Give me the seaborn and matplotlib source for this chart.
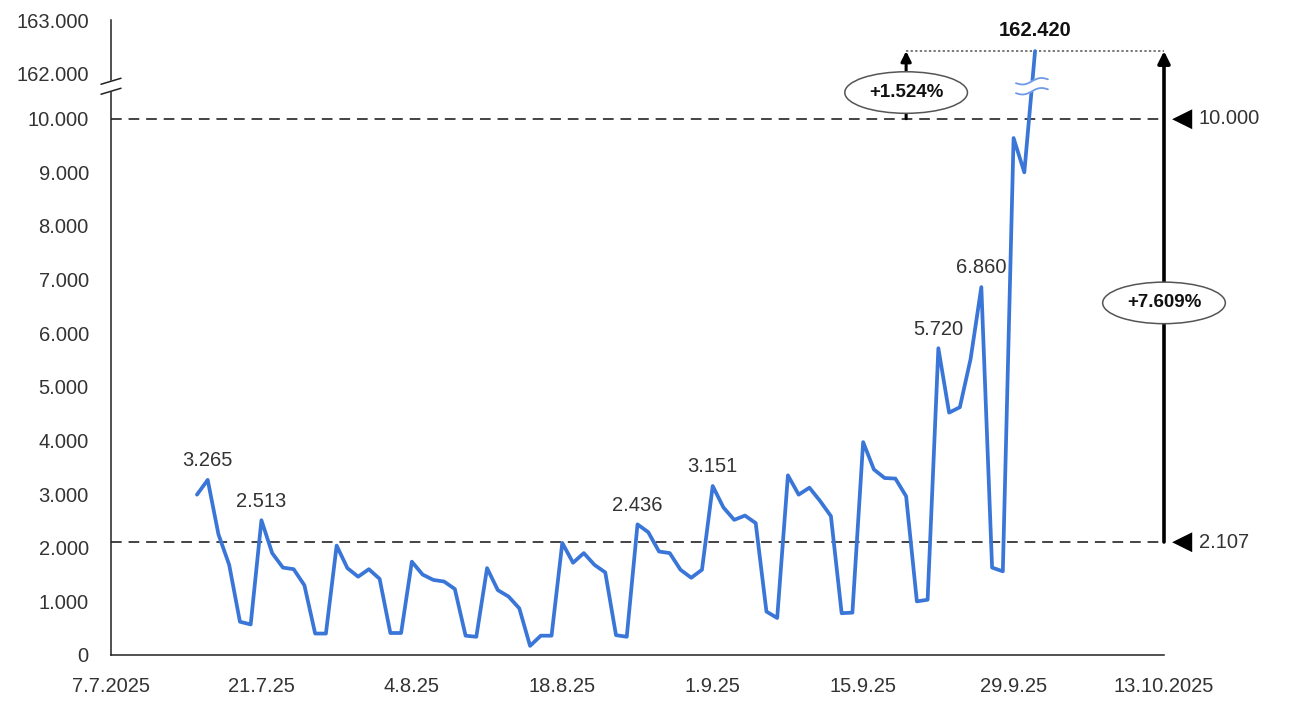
import numpy as np
import pandas as pd
import matplotlib
matplotlib.use('Agg')
import matplotlib.pyplot as plt
import matplotlib.dates as mdates
import seaborn as sns

# daily values from Tue 15.7.2025 to Wed 1.10.2025
start_date = '2025-07-15'
values = [
    2990, 3265, 2250, 1680, 620, 570,                  # 15.7 - 20.7
    2513, 1900, 1630, 1600, 1300, 400, 400,            # 21.7 - 27.7
    2040, 1620, 1460, 1600, 1420, 410, 410,            # 28.7 - 3.8
    1740, 1500, 1400, 1370, 1230, 360, 340,            # 4.8 - 10.8
    1620, 1210, 1090, 870, 170, 360, 360,              # 11.8 - 17.8
    2090, 1720, 1900, 1680, 1540, 370, 340,            # 18.8 - 24.8
    2436, 2290, 1930, 1900, 1590, 1440, 1590,          # 25.8 - 31.8
    3151, 2750, 2520, 2600, 2460, 810, 690,            # 1.9 - 7.9
    3350, 2990, 3120, 2870, 2590, 780, 790,            # 8.9 - 14.9
    3970, 3460, 3300, 3290, 2960, 1000, 1030,          # 15.9 - 21.9
    5720, 4520, 4620, 5520, 6860, 1630, 1560,          # 22.9 - 28.9
    9640, 9000, 162420,                                # 29.9 - 1.10
]
labelled_dates = ['2025-07-16', '2025-07-21', '2025-08-25', '2025-09-01',
                  '2025-09-22', '2025-09-26']

tick_dates = pd.date_range('2025-07-07', '2025-10-13', freq='14D')
tick_labels = ['7.7.2025', '21.7.25', '4.8.25', '18.8.25', '1.9.25',
               '15.9.25', '29.9.25', '13.10.2025']
y_ticks = [0, 1000, 2000, 3000, 4000, 5000, 6000, 7000, 8000, 9000, 10000,
           162000, 163000]

base_level = 2107
mid_level = 10000
small_arrow_date = '2025-09-19'
pct_total = '+7.609%'
pct_mid = '+1.524%'

LINE_COLOR = '#3a76d8'
TEXT_COLOR = '#333333'
FS = 14.5

# broken y axis: 0..10.000 and 162.000..163.000, squeezed gap in between
LOW_TOP, HIGH_BOT, GAP = 10000, 162000, 841


def fwd(y):
    y = np.asarray(y, dtype=float)
    mid = LOW_TOP + (y - LOW_TOP) * GAP / (HIGH_BOT - LOW_TOP)
    high = LOW_TOP + GAP + (y - HIGH_BOT)
    return np.where(y <= LOW_TOP, y, np.where(y >= HIGH_BOT, high, mid))


def inv(t):
    t = np.asarray(t, dtype=float)
    mid = LOW_TOP + (t - LOW_TOP) * (HIGH_BOT - LOW_TOP) / GAP
    high = HIGH_BOT + (t - LOW_TOP - GAP)
    return np.where(t <= LOW_TOP, t, np.where(t >= LOW_TOP + GAP, high, mid))


def fmt(v):
    return f'{v:,.0f}'.replace(',', '.')


df = pd.DataFrame({'date': pd.date_range(start_date, periods=len(values)),
                   'value': values})

sns.set_theme(style='white')
plt.rcParams['font.family'] = ['Liberation Sans', 'DejaVu Sans']

fig = plt.figure(figsize=(13.09, 7.15), dpi=100)
ax = fig.add_axes([111 / 1309, 60 / 715, 1053 / 1309, 635 / 715])

sns.lineplot(data=df, x='date', y='value', ax=ax, color=LINE_COLOR,
             linewidth=2.7, zorder=3)

ax.set_yscale('function', functions=(fwd, inv))
x_min, x_max = tick_dates[0], tick_dates[-1]
ax.set_xlim(x_min, x_max)
ax.set_ylim(0, 163000)
ax.set_yticks(y_ticks)
ax.set_yticklabels([fmt(v) for v in y_ticks])
ax.set_xticks(tick_dates)
ax.set_xticklabels(tick_labels)
ax.minorticks_off()
ax.set_xlabel('')
ax.set_ylabel('')

for side in ['top', 'right']:
    ax.spines[side].set_visible(False)
for side in ['left', 'bottom']:
    ax.spines[side].set_color('#222222')
    ax.spines[side].set_linewidth(1.1)
ax.tick_params(axis='both', direction='out', length=6, width=1.1,
               color='#222222', labelsize=FS, labelcolor=TEXT_COLOR)
ax.tick_params(axis='x', pad=10)
ax.tick_params(axis='y', pad=10)

# reference lines
dash = (0, (7, 4.5))
ax.axhline(mid_level, color='#111111', lw=1.1, ls=dash, zorder=2)
ax.axhline(base_level, color='#111111', lw=1.1, ls=dash, zorder=2)

peak_date = df['date'].iloc[-1]
peak_val = df['value'].iloc[-1]
ax.hlines(peak_val, pd.Timestamp(small_arrow_date), x_max, color='#555555',
          lw=1.1, ls=(0, (1.5, 1.5)), zorder=2)

# value labels above peaks
for d in labelled_dates:
    v = df.loc[df['date'] == pd.Timestamp(d), 'value'].iloc[0]
    ax.annotate(fmt(v), xy=(pd.Timestamp(d), v), xytext=(0, 7),
                textcoords='offset points', ha='center', va='bottom',
                fontsize=FS, color=TEXT_COLOR)
ax.annotate(fmt(peak_val), xy=(peak_date, peak_val), xytext=(0, 8),
            textcoords='offset points', ha='center', va='bottom',
            fontsize=FS, fontweight='bold', color='#111111',
            annotation_clip=False)

# right-hand level markers
for lvl in [mid_level, base_level]:
    ax.annotate('\u25c0', xy=(x_max, lvl), xytext=(6, 0),
                textcoords='offset points', ha='left', va='center',
                fontsize=19, color='#000000', family=['DejaVu Sans'],
                annotation_clip=False)
    ax.annotate(fmt(lvl), xy=(x_max, lvl), xytext=(25, 0),
                textcoords='offset points', ha='left', va='center',
                fontsize=FS, color=TEXT_COLOR, annotation_clip=False)

# growth arrows
top_frac = fwd(163000)


def yfrac(v):
    return float(fwd(v) / top_frac)


arrow_kw = dict(arrowstyle='-|>', color='#000000', shrinkA=0, shrinkB=0)
ax.annotate('', xy=(x_max, peak_val), xytext=(x_max, base_level),
            arrowprops=dict(lw=2.6, mutation_scale=18, **arrow_kw),
            annotation_clip=False, zorder=4)
ax.annotate('', xy=(pd.Timestamp(small_arrow_date), peak_val),
            xytext=(pd.Timestamp(small_arrow_date), mid_level),
            arrowprops=dict(lw=2.2, mutation_scale=15, **arrow_kw),
            annotation_clip=False, zorder=4)

blend = matplotlib.transforms.blended_transform_factory(ax.transData, ax.transAxes)
ell = dict(boxstyle='ellipse,pad=0.33', fc='white', ec='#555555', lw=1.1)
ax.text(x_max, (yfrac(base_level) + yfrac(peak_val)) / 2 - 0.01, pct_total,
        transform=blend, ha='center', va='center', fontsize=13.5,
        fontweight='bold', color='#111111', bbox=ell, zorder=5, clip_on=False)
ax.text(pd.Timestamp(small_arrow_date),
        (yfrac(mid_level) + yfrac(peak_val)) / 2 - 0.012, pct_mid,
        transform=blend, ha='center', va='center', fontsize=13.5,
        fontweight='bold', color='#111111', bbox=ell, zorder=5, clip_on=False)

# break marks on the y axis and on the line
ax_w = 1053.0
ax_h = 635.0
brk_frac = yfrac(inv(LOW_TOP + 0.72 * GAP))
sep = 5 / ax_h
xs = np.array([-10, 10]) / ax_w
ys = np.array([-3, 3]) / ax_h
ax.fill([xs[0], xs[1], xs[1], xs[0]],
        [brk_frac + ys[0] - sep, brk_frac + ys[1] - sep,
         brk_frac + ys[1] + sep, brk_frac + ys[0] + sep],
        transform=ax.transAxes, color='white', zorder=6, clip_on=False)
for s in (-sep, sep):
    ax.plot(xs, brk_frac + ys + s, transform=ax.transAxes, color='#222222',
            lw=1.1, zorder=7, clip_on=False)

# where the last segment crosses the break level
x_nums = mdates.date2num(df['date'].iloc[-2:])
t_vals = fwd(df['value'].iloc[-2:].values)
brk_t = brk_frac * top_frac
xc_num = np.interp(brk_t, t_vals, x_nums)
xc = (xc_num - mdates.date2num(x_min)) / (mdates.date2num(x_max) - mdates.date2num(x_min))
wx = np.linspace(-16, 16, 40)
wy = 2.2 * np.sin(wx / 16 * np.pi) + 0.12 * wx
wave_x = xc + wx / ax_w
ax.fill(np.concatenate([wave_x, wave_x[::-1]]),
        np.concatenate([brk_frac + (wy - 5) / ax_h, brk_frac + (wy[::-1] + 5) / ax_h]),
        transform=ax.transAxes, color='white', zorder=6)
for s in (-5, 5):
    ax.plot(wave_x, brk_frac + (wy + s) / ax_h, transform=ax.transAxes,
            color='#6f9be6', lw=1.3, zorder=7)

fig.savefig('out.png', dpi=100)
